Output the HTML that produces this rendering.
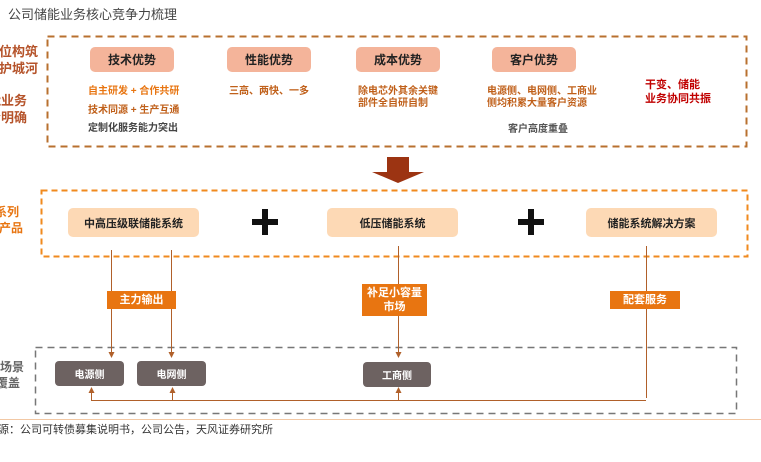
<!DOCTYPE html>
<html><head><meta charset="utf-8"><style>
body{margin:0;width:761px;height:462px;background:#fff;position:relative;overflow:hidden;font-family:"Liberation Sans","Noto Sans CJK SC",sans-serif}
.a{position:absolute;white-space:nowrap}
.pill{position:absolute;border-radius:5px;display:flex;align-items:center;justify-content:center;font-weight:bold;font-size:12px;color:#222}
.t{position:absolute;font-size:10px;font-weight:bold;line-height:12px;white-space:nowrap}
.lab{position:absolute;background:#e87511;color:#fff;font-weight:bold;font-size:11px;display:flex;align-items:center;justify-content:center;text-align:center;line-height:14px}
.g{position:absolute;background:#6d6261;color:#fff;font-weight:bold;font-size:10px;border-radius:4px;display:flex;align-items:center;justify-content:center}
</style></head><body>
<div class="a" style="left:8px;top:4px;font-size:13px;color:#444">公司储能业务核心竞争力梳理</div>

<svg width="761" height="462" style="position:absolute;left:0;top:0">
<defs><marker id="m" markerWidth="6" markerHeight="6" refX="3" refY="3" orient="auto"><path d="M0,0L6,3L0,6z" fill="#b0602a"/></marker></defs>
<rect x="47.5" y="36.5" width="699" height="110" fill="none" stroke="#b8702f" stroke-width="2" stroke-dasharray="7,5"/>
<rect x="41.5" y="190.5" width="706" height="66" fill="none" stroke="#f08a1e" stroke-width="2" stroke-dasharray="6,4"/>
<rect x="35.5" y="347.5" width="701" height="66" fill="none" stroke="#777" stroke-width="1.5" stroke-dasharray="7,5"/>
<path d="M387 157H409V172H424L398 183L372 172H387Z" fill="#9c3412"/>
<g stroke="#b0602a" stroke-width="1" fill="none">
<line x1="111.5" y1="250" x2="111.5" y2="355" marker-end="url(#m)"/>
<line x1="171.5" y1="250" x2="171.5" y2="355" marker-end="url(#m)"/>
<line x1="398.5" y1="246" x2="398.5" y2="355" marker-end="url(#m)"/>
<line x1="646.5" y1="246" x2="646.5" y2="398"/>
<line x1="91" y1="400.5" x2="646" y2="400.5"/>
<line x1="91.5" y1="400" x2="91.5" y2="390" marker-end="url(#m)"/>
<line x1="172.5" y1="400" x2="172.5" y2="390" marker-end="url(#m)"/>
<line x1="398.5" y1="400" x2="398.5" y2="390" marker-end="url(#m)"/>
</g>
<line x1="0" y1="419.5" x2="761" y2="419.5" stroke="#f2c8a4" stroke-width="1"/>
<g fill="#111"><rect x="252" y="219" width="26" height="6"/><rect x="262" y="209" width="6" height="26"/>
<rect x="518" y="219" width="26" height="6"/><rect x="528" y="209" width="6" height="26"/></g>
</svg>

<div class="a" style="right:723px;top:43px;font-size:13px;font-weight:bold;color:#b5532a;line-height:17px">位构筑</div>
<div class="a" style="right:723px;top:60px;font-size:13px;font-weight:bold;color:#b5532a;line-height:17px">护城河</div>
<div class="a" style="right:734px;top:92px;font-size:13px;font-weight:bold;color:#b5532a;line-height:17px">能业务</div>
<div class="a" style="right:734px;top:109px;font-size:13px;font-weight:bold;color:#b5532a;line-height:17px">分明确</div>
<div class="a" style="right:742px;top:204px;font-size:12px;font-weight:bold;color:#e87511;line-height:16px">全系列</div>
<div class="a" style="right:738px;top:220px;font-size:12px;font-weight:bold;color:#e87511;line-height:16px">储能产品</div>
<div class="a" style="right:737px;top:359px;font-size:12px;font-weight:bold;color:#666;line-height:16px">场景</div>
<div class="a" style="right:741px;top:375px;font-size:12px;font-weight:bold;color:#666;line-height:16px">覆盖</div>

<div class="pill" style="left:90px;top:47px;width:84px;height:25px;background:#f4b49a">技术优势</div>
<div class="pill" style="left:227px;top:47px;width:84px;height:25px;background:#f4b49a">性能优势</div>
<div class="pill" style="left:356px;top:47px;width:84px;height:25px;background:#f4b49a">成本优势</div>
<div class="pill" style="left:492px;top:47px;width:84px;height:25px;background:#f4b49a">客户优势</div>

<div class="t" style="left:88px;top:86px;color:#e87511">自主研发 + 合作共研</div>
<div class="t" style="left:88px;top:105px;color:#c0601a">技术同源 + 生产互通</div>
<div class="t" style="left:88px;top:123px;color:#444">定制化服务能力突出</div>
<div class="t" style="left:229px;top:86px;color:#c0601a">三高、两快、一多</div>
<div class="t" style="left:358px;top:86px;color:#c0601a">除电芯外其余关键<br>部件全自研自制</div>
<div class="t" style="left:487px;top:86px;color:#c0601a">电源侧、电网侧、工商业<br>侧均积累大量客户资源</div>
<div class="t" style="left:508px;top:124px;color:#555">客户高度重叠</div>
<div class="t" style="left:645px;top:78px;color:#c00000;font-size:11px;line-height:14px">干变、储能<br>业务协同共振</div>

<div class="pill" style="left:68px;top:208px;width:131px;height:29px;background:#fdd9b5;font-size:11px">中高压级联储能系统</div>
<div class="pill" style="left:327px;top:208px;width:131px;height:29px;background:#fdd9b5;font-size:11px">低压储能系统</div>
<div class="pill" style="left:586px;top:208px;width:131px;height:29px;background:#fdd9b5;font-size:11px">储能系统解决方案</div>

<div class="lab" style="left:107px;top:291px;width:69px;height:18px">主力输出</div>
<div class="lab" style="left:362px;top:284px;width:65px;height:32px">补足小容量<br>市场</div>
<div class="lab" style="left:610px;top:291px;width:70px;height:18px">配套服务</div>

<div class="g" style="left:55px;top:361px;width:69px;height:25px">电源侧</div>
<div class="g" style="left:137px;top:361px;width:69px;height:25px">电网侧</div>
<div class="g" style="left:363px;top:362px;width:68px;height:25px">工商侧</div>

<div class="a" style="left:-2px;top:421px;font-size:11px;color:#333">源：公司可转债募集说明书，公司公告，天风证券研究所</div>
</body></html>
